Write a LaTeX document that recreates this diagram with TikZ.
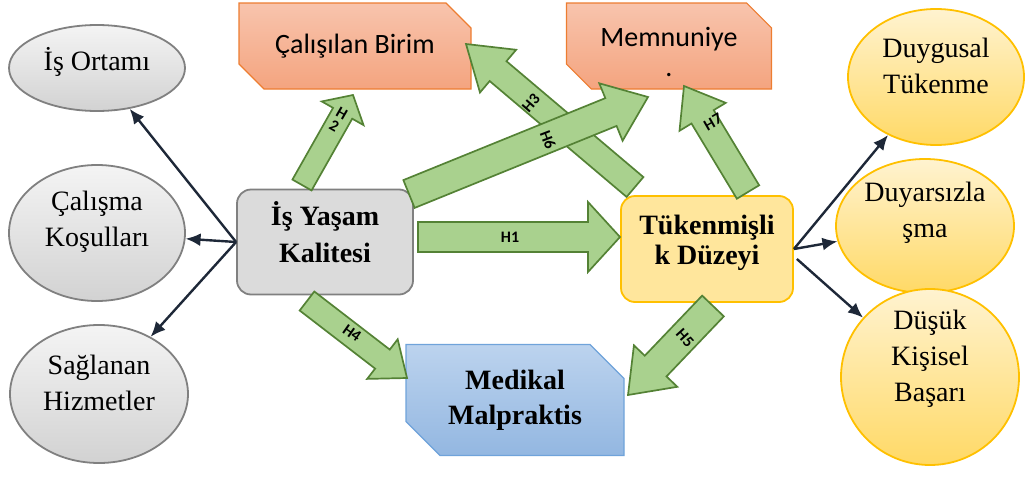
\documentclass[tikz,border=0pt]{standalone}
\usepackage{fontspec}
\setmainfont{Liberation Serif}
\newfontfamily\calibri{Carlito}
\usetikzlibrary{arrows.meta,calc,shapes.geometric,shapes.misc}

\definecolor{ovalTop}{HTML}{F4F4F4}
\definecolor{ovalBot}{HTML}{D2D2D2}
\definecolor{ovalLine}{HTML}{808080}
\definecolor{sunTop}{HTML}{FFF3D0}
\definecolor{sunBot}{HTML}{FFD966}
\definecolor{sunLine}{HTML}{FFC000}
\definecolor{peachTop}{HTML}{F8C4AD}
\definecolor{peachBot}{HTML}{F4A47F}
\definecolor{peachLine}{HTML}{ED7D31}
\definecolor{skyTop}{HTML}{BCD3EE}
\definecolor{skyBot}{HTML}{93B7E1}
\definecolor{skyLine}{HTML}{6FA3DA}
\definecolor{leaf}{HTML}{A9D18E}
\definecolor{leafLine}{HTML}{548235}
\definecolor{ink}{HTML}{1E2838}

% tail, tip, half shaft, half head, head length
\newcommand{\blockArrow}[5]{%
  \coordinate (#2-base) at ($(#2)!#5!(#1)$);
  \draw[hArrow] ($(#1)!#3!90:(#2)$) -- ($(#2-base)!#3!90:(#2)$) -- ($(#2-base)!#4!90:(#2)$) -- (#2)
    -- ($(#2-base)!#4!-90:(#2)$) -- ($(#2-base)!#3!-90:(#2)$) -- ($(#1)!#3!-90:(#2)$) -- cycle;}

\begin{document}
\begin{tikzpicture}
	[ x=1pt, y=-1pt,
		oval/.style={ellipse,draw=ovalLine,line width=1.8pt,top color=ovalTop,bottom color=ovalBot,inner sep=0pt},
		sunOval/.style={oval,draw=sunLine,top color=sunTop,bottom color=sunBot},
		ovalText/.style={font=\fontsize{28}{36}\selectfont,align=center,inner sep=0pt},
		mainBox/.style={rectangle,rounded corners=14pt,draw=ovalLine,fill=ovalBot!80!white,line width=1.8pt},
		boxText/.style={font=\fontsize{28}{37}\selectfont\bfseries,align=center,inner sep=0pt},
		snipBox/.style={chamfered rectangle,chamfered rectangle corners={north east,south west},
			chamfered rectangle sep=13pt,draw=peachLine,line width=1.2pt,top color=peachTop,bottom color=peachBot,
			inner sep=0pt,align=center,font=\calibri\fontsize{28}{26}\selectfont},
		arrowOut/.style={-{Latex[length=15pt,width=13pt]},draw=ink,line width=2.4pt},
		hArrow/.style={fill=leaf,draw=leafLine,line width=1.7pt,line join=miter},
		hLabel/.style={font=\calibri\fontsize{16}{15}\selectfont\bfseries,align=center,inner sep=0pt}]

	\useasboundingbox (0,0) rectangle (1025,482);

	% left side
	\node[oval,minimum width=176pt,minimum height=86pt,
		label={[ovalText,name=isortamiText,yshift=6pt]center:İş Ortamı}] (isortami) at (97,68) {};
	\node[oval,minimum width=176pt,minimum height=136pt,
		label={[ovalText,name=calismaText,yshift=11pt]center:{Çalışma\\Koşulları}}] (calisma) at (97,233) {};
	\node[oval,minimum width=178pt,minimum height=138pt,
		label={[ovalText,name=saglananText,yshift=11pt]center:{Sağlanan\\Hizmetler}}] (saglanan) at (99,394) {};

	% right side
	\node[sunOval,minimum width=176pt,minimum height=136pt,
		label={[ovalText,name=duygusalText,yshift=11pt]center:{Duygusal\\Tükenme}}] (duygusal) at (936,77) {};
	\node[sunOval,minimum width=178pt,minimum height=134pt,
		label={[ovalText,name=duyarsizText,yshift=13pt]center:{Duyarsızla\\şma}}] (duyarsiz) at (925,226) {};
	\node[sunOval,minimum width=178pt,minimum height=176pt,
		label={[ovalText,name=dusukText,yshift=18pt]center:{Düşük\\Kişisel\\Başarı}}] (dusuk) at (930,377) {};

	% main boxes
	\node[mainBox,minimum width=176pt,minimum height=105pt,
		label={[boxText,name=isyasamText,yshift=10pt]center:{İş Yaşam\\Kalitesi}}] (isyasam) at (325,242) {};
	\node[mainBox,draw=sunLine,fill=sunBot!65!white,minimum width=172pt,minimum height=106pt,
		label={[boxText,font=\fontsize{28}{30}\selectfont\bfseries,name=tukenText,yshift=6pt]center:{Tükenmişli\\k Düzeyi}}]
		(tukenmislik) at (707,249) {};
	\node[snipBox,minimum width=232pt,minimum height=86pt] (calisilan) at (355,46) {Çalışılan Birim};
	\node[snipBox,minimum width=205pt,minimum height=86pt,
		label={[font=\calibri\fontsize{28}{30}\selectfont,align=center,inner sep=0pt,name=memText,yshift=-6pt]center:{Memnuniye\\.}}]
		(memnuniye) at (669,46) {\phantom{Memnuniye}};
	\node[snipBox,draw=skyLine,top color=skyTop,bottom color=skyBot,chamfered rectangle sep=17pt,
		minimum width=218pt,minimum height=111pt,font=\fontsize{28}{35}\selectfont\bfseries]
		(medikal) at (515,400) {Medikal\\Malpraktis};

	% thin connectors
	\draw[arrowOut] (isyasam.west) -- (isortami);
	\draw[arrowOut] (isyasam.west) -- (calisma);
	\draw[arrowOut] (isyasam.west) -- (saglanan);
	\draw[arrowOut] (tukenmislik.east) -- (duygusal);
	\draw[arrowOut] (tukenmislik.east) -- (duyarsiz);
	\draw[arrowOut] ($(tukenmislik.east)+(3,10)$) -- (dusuk);

	% hypothesis arrows
	\coordinate (h2a) at (302,185);  \coordinate (h2b) at (353,95);
	\coordinate (h3a) at (635,187);  \coordinate (h3b) at (466,44);
	\coordinate (h6a) at (409,194);  \coordinate (h6b) at (648,97);
	\coordinate (h7a) at (748,192);  \coordinate (h7b) at (684,86);
	\coordinate (h1a) at (418,237);  \coordinate (h1b) at (620,237);
	\coordinate (h4a) at (307,301);  \coordinate (h4b) at (407,378);
	\coordinate (h5a) at (713,306);  \coordinate (h5b) at (628,395);

	\blockArrow{h2a}{h2b}{11pt}{24pt}{21pt}
	\blockArrow{h3a}{h3b}{13pt}{28pt}{42pt}
	\blockArrow{h6a}{h6b}{15pt}{31pt}{40pt}
	\blockArrow{h7a}{h7b}{13pt}{27pt}{36pt}
	\blockArrow{h1a}{h1b}{15pt}{35pt}{32pt}
	\blockArrow{h4a}{h4b}{12pt}{25pt}{31pt}
	\blockArrow{h5a}{h5b}{15pt}{30pt}{40pt}

	\node[hLabel,rotate=-30] (h2lbl) at (338,120) {H\\2};
	\node[hLabel,rotate=49] (h3lbl) at (531,103) {H3};
	\node[hLabel,rotate=-69] (h6lbl) at (548,140) {H6};
	\node[hLabel,rotate=30] (h7lbl) at (713,122) {H7};
	\node[hLabel] (h1lbl) at (510,237) {H1};
	\node[hLabel,rotate=-35] (h4lbl) at (352,333) {H4};
	\node[hLabel,rotate=-48] (h5lbl) at (685,338) {H5};
\end{tikzpicture}
\end{document}
